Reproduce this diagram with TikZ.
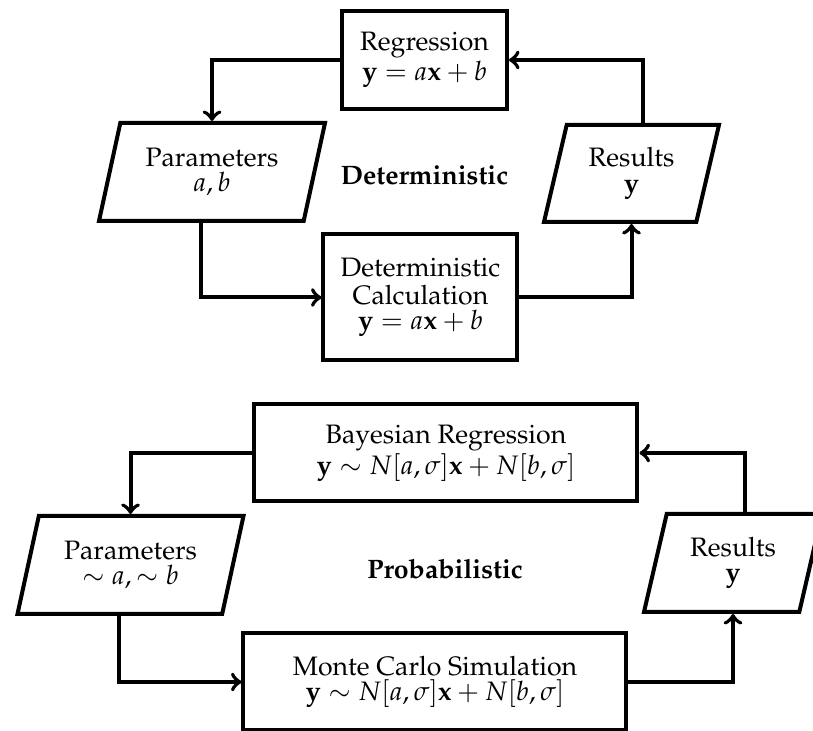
\documentclass[tikz,border=0pt]{standalone}
\usepackage[T1]{fontenc}
\usepackage{mathpazo}
\usepackage{amsmath}
\usepackage{tikz}
\usetikzlibrary{shapes.geometric}

\newcommand{\pxu}{0.375pt}

\begin{document}
\begin{tikzpicture}[
    x=\pxu, y=-\pxu,
    line width=1.5pt,
    every node/.style={font=\fontsize{10}{9.5}\selectfont},
    box/.style={rectangle, draw, align=center, inner sep=2pt},
    data/.style={trapezium, trapezium left angle=70, trapezium right angle=110,
        trapezium stretches body, draw, align=center, inner sep=2pt},
    arrow/.style={->}
]
\useasboundingbox (0,0) rectangle (813,731);

% Deterministic loop
\node[box, minimum width=165*\pxu, minimum height=98*\pxu] (reg) at (424.5,60)
    {Regression\\ $\mathbf{y} = a\mathbf{x} + b$};
\node[data, minimum width=226*\pxu, minimum height=98*\pxu] (par) at (212,172)
    {Parameters\\ $a, b$};
\node[box, minimum width=194*\pxu, minimum height=126*\pxu] (calc) at (420.5,297.5)
    {Deterministic\\[1pt] Calculation\\ $\mathbf{y} = a\mathbf{x} + b$};
\node[data, minimum width=175*\pxu, minimum height=97*\pxu] (res) at (631.5,173.5)
    {Results\\ $\mathbf{y}$};
\node[font=\bfseries] (det) at (424.5,175) {Deterministic};

\draw[arrow] (reg.west) -| (par.north);
\draw[arrow] (par.bottom side) |- (calc.west);
\draw[arrow] (calc.east) -| (res.south);
\draw[arrow] (res.top side) |- (reg.east);

% Probabilistic loop
\node[box, minimum width=383*\pxu, minimum height=97*\pxu] (bay) at (446,453)
    {Bayesian Regression\\ $\mathbf{y} \sim N[a,\sigma]\mathbf{x} + N[b,\sigma]$};
\node[data, minimum width=226*\pxu, minimum height=98*\pxu] (ppar) at (130.5,565)
    {Parameters\\ $\sim a, \sim b$};
\node[box, minimum width=383*\pxu, minimum height=97*\pxu] (mc) at (435,682)
    {Monte Carlo Simulation\\ $\mathbf{y} \sim N[a,\sigma]\mathbf{x} + N[b,\sigma]$};
\node[data, minimum width=178*\pxu, minimum height=98*\pxu] (pres) at (733,563)
    {Results\\ $\mathbf{y}$};
\node[font=\bfseries] (prob) at (445,569) {Probabilistic};

\draw[arrow] (bay.west) -| (ppar.north);
\draw[arrow] (ppar.bottom side) |- (mc.west);
\draw[arrow] (mc.east) -| (pres.south);
\draw[arrow] (pres.top side) |- (bay.east);
\end{tikzpicture}
\end{document}
